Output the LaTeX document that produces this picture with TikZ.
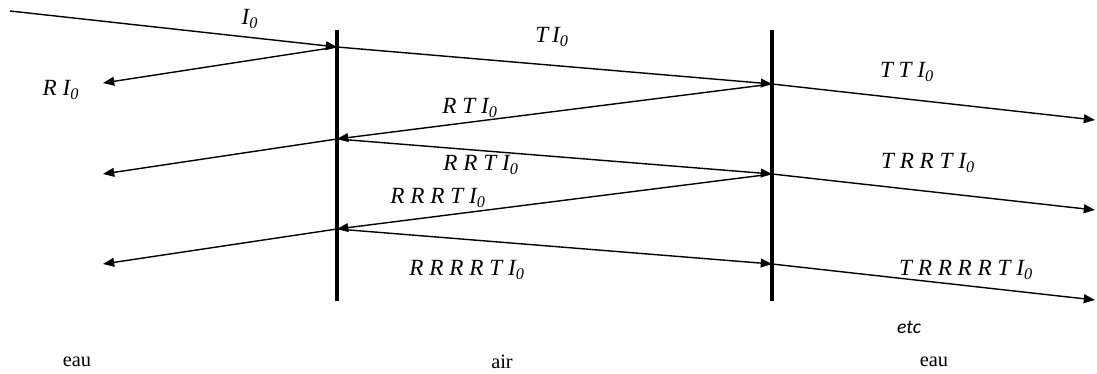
\documentclass[tikz,border=0pt]{standalone}
\usepackage{fontspec}
\setmainfont{Liberation Serif}
\newfontfamily\etcfont{Carlito}
\usepackage{tikz}
\usetikzlibrary{arrows.meta}

\begin{document}
\begin{tikzpicture}[x=0.025cm, y=-0.025cm,
    ray/.style={line width=1pt, -{Triangle[length=2.8mm, width=2.2mm]}},
    wall/.style={line width=3.2pt},
    lbl/.style={font=\fontsize{16.5}{18}\selectfont\itshape, inner sep=0pt},
    medium/.style={font=\fontsize{14.5}{16}\selectfont, inner sep=0pt}]
    \useasboundingbox (0,0) rectangle (1097,374);

    % Interfaces water / air / water
    \coordinate (Ltop) at (337,30);
    \coordinate (Lbot) at (337,301);
    \coordinate (Rtop) at (772,30);
    \coordinate (Rbot) at (772,301);
    \draw[wall] (Ltop) -- (Lbot);
    \draw[wall] (Rtop) -- (Rbot);

    % Points where the beam hits the interfaces
    \coordinate (L1) at (337,47);
    \coordinate (L2) at (337,139);
    \coordinate (L3) at (337,229);
    \coordinate (R1) at (772,84);
    \coordinate (R2) at (772,174);
    \coordinate (R3) at (772,264);

    % Free ends of the beams
    \coordinate (src) at (10,11);
    \coordinate (back1) at (103,83);
    \coordinate (back2) at (103,174);
    \coordinate (back3) at (103,264);
    \coordinate (out1) at (1095,120);
    \coordinate (out2) at (1095,210);
    \coordinate (out3) at (1095,300);

    % Incident beam and its reflection
    \draw[ray] (src) -- (L1);
    \draw[ray] (L1) -- (back1);

    % Beams bouncing inside the air layer
    \draw[ray] (L1) -- (R1);
    \draw[ray] (R1) -- (L2);
    \draw[ray] (L2) -- (R2);
    \draw[ray] (R2) -- (L3);
    \draw[ray] (L3) -- (R3);

    % Beams leaving the air layer
    \draw[ray] (L2) -- (back2);
    \draw[ray] (L3) -- (back3);
    \draw[ray] (R1) -- (out1);
    \draw[ray] (R2) -- (out2);
    \draw[ray] (R3) -- (out3);

    % Intensities
    \node[lbl] (i0) at (250,19) {I\textsubscript{0}};
    \node[lbl] (ri0) at (61,90) {R I\textsubscript{0}};
    \node[lbl] (ti0) at (552,37) {T\,I\textsubscript{0}};
    \node[lbl] (tti0) at (907,72) {T T I\textsubscript{0}};
    \node[lbl] (rti0) at (470,108) {R T I\textsubscript{0}};
    \node[lbl] (rrti0) at (481,165) {R R T I\textsubscript{0}};
    \node[lbl] (trrti0) at (928,163) {T R R T I\textsubscript{0}};
    \node[lbl] (rrrti0) at (438,198) {R R R T I\textsubscript{0}};
    \node[lbl] (rrrrti0) at (467,270) {R R R R T I\textsubscript{0}};
    \node[lbl] (trrrrti0) at (966,270) {T R R R R T I\textsubscript{0}};
    \node[font=\etcfont\itshape\fontsize{14}{16}\selectfont, inner sep=0pt] (etc) at (909,327) {etc};

    % Media
    \node[medium] (eauL) at (77,362) {eau};
    \node[medium] (air) at (502,362) {air};
    \node[medium] (eauR) at (934,362) {eau};
\end{tikzpicture}
\end{document}
